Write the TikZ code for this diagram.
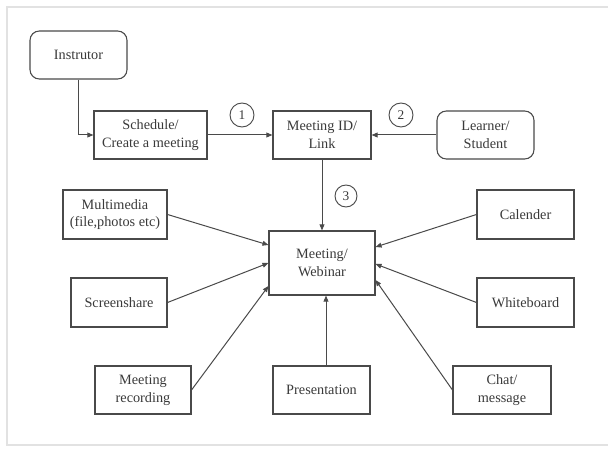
\documentclass[tikz,border=0pt]{standalone}
\usepackage{fontspec}
\setmainfont{Liberation Serif}
\usetikzlibrary{calc,arrows.meta}
\definecolor{ink}{HTML}{3A3A3A}
\definecolor{edge}{HTML}{4A4A4A}
\definecolor{framegray}{HTML}{E2E2E2}
\tikzset{
  box/.style={draw=edge, line width=0.8pt, align=center, inner sep=0pt,
    text=ink, font=\fontsize{10.7}{13.3}\selectfont},
  roundbox/.style={box, rounded corners=7pt},
  sz/.style 2 args={minimum width=#1*0.75pt, minimum height=#2*0.75pt},
  link/.style={draw=edge, line width=0.75pt,
    -{Triangle[length=4.5pt,width=3.6pt]}},
  stepmark/.style={draw=edge, circle, line width=0.7pt, minimum size=18pt,
    inner sep=0pt, text=ink, font=\fontsize{10}{12}\selectfont}
}
\begin{document}
\begin{tikzpicture}[x=0.75pt, y=-0.75pt]
  \useasboundingbox (0,0) rectangle (608,452);
  \fill[white] (0,0) rectangle (608,452);
  % light page frame
  \draw[framegray, line width=1pt] (608,7) -- (7,7) -- (7,445) -- (608,445);

  % top row
  \node[roundbox, sz={97}{48}] (instr) at (78.5,55) {Instrutor};
  \node[box, sz={113}{48}] (sched) at (150.5,135) {Schedule/\\Create a meeting};
  \node[box, sz={98}{48}] (mid) at (322,135) {Meeting ID/\\Link};
  \node[roundbox, sz={97}{48}] (learn) at (485.5,135) {Learner/\\Student};

  % central meeting
  \node[box, sz={106}{64}] (meet) at (322,263) {Meeting/\\Webinar};

  % features
  \node[box, sz={104}{49}] (multi) at (115,214.5) {Multimedia\\(file,photos etc)};
  \node[box, sz={96}{49}] (screen) at (119,302.5) {Screenshare};
  \node[box, sz={96}{48}] (rec) at (143,390) {Meeting\\recording};
  \node[box, sz={97}{48}] (pres) at (321.5,390) {Presentation};
  \node[box, sz={97}{49}] (cal) at (525.5,214.5) {Calender};
  \node[box, sz={97}{49}] (white) at (525.5,302.5) {Whiteboard};
  \node[box, sz={98}{48}] (chat) at (502,390) {Chat/\\message};

  % step markers
  \node[stepmark] (s1) at (242,115) {1};
  \node[stepmark] (s2) at (401,115) {2};
  \node[stepmark, minimum size=16.5pt] (s3) at (346,196) {3};

  % flow of the meeting set-up
  \draw[link] (instr.south) |- (sched.west);
  \draw[link] (sched.east) -- (mid.west);
  \draw[link] (learn.west) -- (mid.east);
  \draw[link] (mid.south) -- (meet.north);

  % features feeding the meeting
  \draw[link] (multi.east) -- ($(meet.west)+(0,-18)$);
  \draw[link] (screen.east) -- ($(meet.west)+(0,0)$);
  \draw[link] (rec.east) -- ($(meet.west)+(0,23)$);
  \draw[link] ($(pres.north)+(4.5,0)$) -- ($(meet.south)+(4,0)$);
  \draw[link] (cal.west) -- ($(meet.east)+(0,-16)$);
  \draw[link] (white.west) -- ($(meet.east)+(0,1)$);
  \draw[link] (chat.west) -- ($(meet.east)+(0,17)$);
\end{tikzpicture}
\end{document}
